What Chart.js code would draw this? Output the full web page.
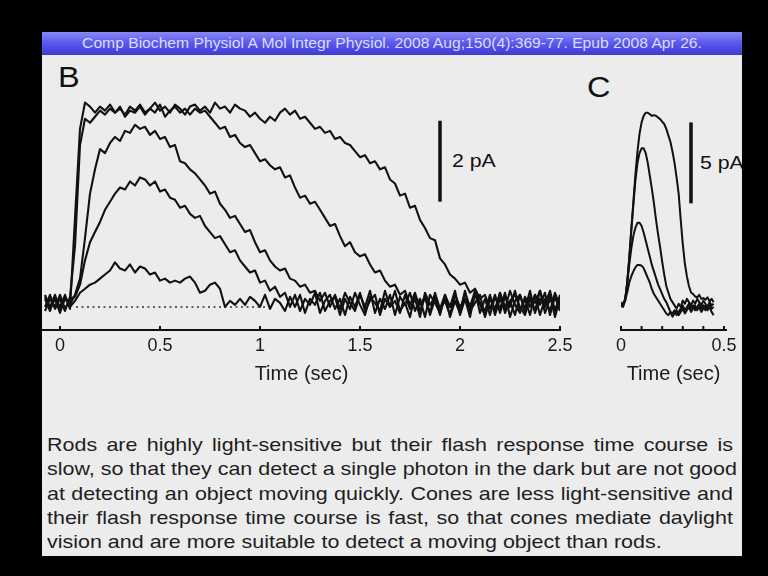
<!DOCTYPE html>
<html>
<head>
<meta charset="utf-8">
<title>Rod and cone flash responses</title>
<script src="https://cdn.jsdelivr.net/npm/chart.js@4.4.1/dist/chart.umd.min.js"></script>
<style>
  html, body { margin: 0; padding: 0; background: #000; }
  body { width: 768px; height: 576px; overflow: hidden; font-family: "Liberation Sans", Arial, sans-serif; }
  #slide { position: absolute; left: 42px; top: 32px; width: 700px; height: 524px; background: #ececec; overflow: hidden; }
  #bar { position: absolute; left: 0; top: 0; width: 700px; height: 23px;
         background: linear-gradient(#8888f6, #5858ec 50%, #3c3cd4); }
  #bar span { display: block; text-align: center; color: #dcdcff; font-size: 14.5px; line-height: 23px; transform: scaleX(1.08); }
  .lbl { position: absolute; color: #111; line-height: 1; white-space: nowrap; transform-origin: left top; transform: scaleX(1.12); }
  canvas { position: absolute; filter: blur(0.35px); }
  #para { position: absolute; left: 5px; top: 401px; width: 607px; font-size: 19px; line-height: 24.3px; color: #1e1e1e;
          transform-origin: left top; transform: scaleX(1.13); }
  #para div { white-space: nowrap; text-align: justify; text-align-last: justify; }
  #para div.last { text-align-last: left; }
</style>
</head>
<body>
<div id="slide">
  <div id="bar"><span>Comp Biochem Physiol A Mol Integr Physiol. 2008 Aug;150(4):369-77. Epub 2008 Apr 26.</span></div>
  <div class="lbl" style="left:16px; top:31px; font-size:29px;">B</div>
  <div class="lbl" style="left:545px; top:41px; font-size:29px;">C</div>
  <div class="lbl" style="left:410px; top:119px; font-size:19px;">2 pA</div>
  <div class="lbl" style="left:658px; top:121px; font-size:19px;">5 pA</div>
  <canvas id="rods" width="540" height="340" style="left:0; top:40px;"></canvas>
  <canvas id="cones" width="152" height="340" style="left:548px; top:40px;"></canvas>
  <div id="para">
    <div>Rods are highly light-sensitive but their flash response time course is</div>
    <div>slow, so that they can detect a single photon in the dark but are not good</div>
    <div>at detecting an object moving quickly. Cones are less light-sensitive and</div>
    <div>their flash response time course is fast, so that cones mediate daylight</div>
    <div class="last">vision and are more suitable to detect a moving object than rods.</div>
  </div>
</div>
<script>
// ── Data (seconds, pA) ───────────────────────────────────────────────────────
const rodTime = [
  -0.075,-0.05,-0.025,0,0.025,0.05,0.075,0.1,0.125,0.15,
  0.175,0.2,0.225,0.25,0.275,0.3,0.325,0.35,0.375,0.4,
  0.425,0.45,0.475,0.5,0.525,0.55,0.575,0.6,0.625,0.65,
  0.675,0.7,0.725,0.75,0.775,0.8,0.825,0.85,0.875,0.9,
  0.925,0.95,0.975,1,1.025,1.05,1.075,1.1,1.125,1.15,
  1.175,1.2,1.225,1.25,1.275,1.3,1.325,1.35,1.375,1.4,
  1.425,1.45,1.475,1.5,1.525,1.55,1.575,1.6,1.625,1.65,
  1.675,1.7,1.725,1.75,1.775,1.8,1.825,1.85,1.875,1.9,
  1.925,1.95,1.975,2,2.025,2.05,2.075,2.1,2.125,2.15,
  2.175,2.2,2.225,2.25,2.275,2.3,2.325,2.35,2.375,2.4,
  2.425,2.45,2.475,2.5
];

// brightest flash: longest saturation
const rodSat = [
  0.1,-0.2,0.15,-0.1,0.2,-0.15,2.1,4.3,4.95,4.85,
  4.7,4.85,4.75,4.9,4.7,4.8,4.65,4.85,4.75,4.9,
  4.7,4.8,4.95,4.75,4.85,4.7,4.9,4.8,4.65,4.85,
  4.9,4.75,4.85,4.7,4.95,4.8,4.85,4.7,4.9,4.8,
  4.75,4.6,4.7,4.55,4.45,4.6,4.5,4.7,4.8,4.65,
  4.75,4.55,4.6,4.45,4.3,4.35,4.2,4.25,4.05,4.1,
  3.95,3.9,3.75,3.6,3.65,3.45,3.5,3.3,3.35,3.05,
  2.95,2.65,2.7,2.35,2.4,2.05,1.85,1.6,1.55,1.1,
  0.95,0.7,0.6,0.45,0.5,0.25,0.35,0.1,0.2,-0.15,
  0.2,-0.25,0.15,-0.1,0.3,-0.2,0.1,-0.3,0.2,-0.05,
  0.25,-0.3,0.15,-0.2
];
const rodHigh = [
  -0.1,0.2,-0.15,0.1,-0.2,0.15,1.4,3.9,4.55,4.45,
  4.6,4.75,4.65,4.8,4.7,4.85,4.6,4.75,4.7,4.85,
  4.65,4.8,4.7,4.9,4.6,4.75,4.85,4.7,4.8,4.65,
  4.8,4.7,4.75,4.6,4.45,4.3,4.35,4.1,4.15,3.95,
  3.85,3.9,3.7,3.5,3.55,3.4,3.3,3.35,3.1,3.15,
  2.85,2.6,2.65,2.45,2.5,2.3,2.1,1.9,1.95,1.65,
  1.4,1.5,1.25,1.15,1.2,0.95,0.75,0.8,0.55,0.4,
  0.45,0.2,0.3,-0.05,0.25,-0.2,0.15,-0.3,0.1,-0.15,
  0.2,-0.35,0.05,-0.2,0.25,-0.1,0.3,-0.25,0.1,-0.3,
  0.15,-0.15,0.25,-0.35,0.05,0.2,-0.25,0.1,-0.2,0.3,
  -0.1,0.2,-0.35,0.1
];
const rodMid = [
  0.15,-0.1,0.2,-0.2,0.1,-0.05,0.2,0.6,1.6,2.7,
  3.3,3.8,3.7,3.95,4.1,4.0,4.25,4.2,4.4,4.3,
  4.35,4.15,4.25,4.05,4.1,3.85,3.9,3.5,3.45,3.3,
  3.2,3.05,2.9,2.7,2.75,2.45,2.3,2.1,2.15,1.95,
  1.75,1.8,1.5,1.25,1.3,1.05,0.9,0.8,0.85,0.6,
  0.55,0.4,0.45,0.25,0.3,0.05,0.25,-0.1,0.2,-0.15,
  0.25,0.0,-0.2,0.2,-0.1,0.3,-0.25,0.1,-0.15,0.2,
  -0.3,0.15,-0.05,0.25,-0.2,0.1,-0.35,0.2,0.0,-0.25,
  0.15,-0.1,0.3,-0.3,0.1,-0.2,0.2,-0.05,-0.3,0.15,
  -0.2,0.25,-0.1,0.05,-0.3,0.2,-0.15,0.3,-0.25,0.1,
  -0.05,0.3,-0.2,0.2
];
const rodLow = [
  -0.2,0.1,-0.1,0.2,-0.15,0.1,0.15,0.45,1.05,1.5,
  1.75,2.0,2.3,2.5,2.7,2.85,2.8,3.0,2.9,3.1,
  3.05,2.9,3.0,2.75,2.8,2.6,2.55,2.35,2.4,2.2,
  2.1,2.15,1.9,1.75,1.6,1.65,1.45,1.25,1.3,1.05,
  0.9,0.75,0.8,0.5,0.55,0.3,0.4,0.15,0.25,-0.1,
  0.2,-0.2,0.1,-0.05,0.25,-0.25,0.05,0.2,-0.15,0.1,
  -0.3,0.15,-0.1,0.25,-0.2,0.05,0.2,-0.3,0.1,-0.1,
  0.3,-0.2,0.0,-0.35,0.2,-0.05,0.15,-0.25,0.25,-0.15,
  0.05,-0.3,0.2,-0.1,0.1,-0.35,0.25,0.0,-0.2,0.2,
  -0.3,0.1,-0.15,0.3,-0.05,-0.25,0.15,-0.1,0.2,-0.3,
  0.1,-0.2,0.25,-0.1
];
const rodDim = [
  0.2,-0.15,0.1,-0.25,0.15,-0.1,0.05,0.25,0.35,0.45,
  0.5,0.6,0.7,0.8,1.0,0.85,0.8,0.95,0.75,0.9,
  0.85,0.7,0.75,0.55,0.6,0.5,0.55,0.5,0.6,0.65,
  0.5,0.25,0.3,0.45,0.5,0.35,-0.1,0.05,-0.05,0.1,
  -0.05,0.15,0.05,-0.1,0.2,-0.15,0.1,0.0,-0.2,0.15,
  -0.1,0.2,-0.25,0.1,-0.05,0.25,-0.2,0.05,0.15,-0.3,
  0.1,-0.15,0.25,-0.05,-0.3,0.15,0.0,-0.2,0.3,-0.1,
  0.05,-0.25,0.2,-0.15,0.1,-0.35,0.25,-0.05,0.15,-0.3,
  0.2,-0.1,0.05,-0.25,0.3,-0.2,0.0,0.2,-0.35,0.1,
  -0.15,0.25,-0.25,0.05,0.2,-0.1,-0.3,0.15,0.0,0.3,
  -0.25,0.1,-0.15,0.05
];

const coneTime = [
  0,0.01,0.02,0.03,0.04,0.05,0.06,0.07,0.08,0.09,
  0.1,0.11,0.12,0.13,0.14,0.15,0.16,0.17,0.18,0.19,
  0.2,0.21,0.22,0.23,0.24,0.25,0.26,0.27,0.28,0.29,
  0.3,0.31,0.32,0.33,0.34,0.35,0.36,0.37,0.38,0.39,
  0.4,0.41,0.42,0.43,0.44,0.45
];
const coneBright = [
  0.3,0.1,0.4,1.5,3.0,4.8,6.5,8.2,9.6,10.7,
  11.4,11.8,12.0,12.0,11.9,11.8,11.85,11.8,11.7,11.6,
  11.45,11.3,11.0,10.6,10.2,9.6,8.9,8.0,7.0,5.4,
  3.9,2.7,1.9,1.3,0.9,0.8,0.65,0.6,0.75,0.5,
  0.55,0.45,0.6,0.35,0.5,0.3
];
const coneHigh = [
  0.2,0.0,0.4,1.5,3.0,4.7,6.3,7.8,8.9,9.5,
  9.8,9.8,9.5,8.9,8.1,7.3,6.4,5.4,4.5,3.7,
  2.8,2.0,1.3,0.9,0.5,0.3,0.1,-0.1,0.2,0.0,
  0.4,0.2,0.5,0.3,0.1,0.4,0.2,0.5,0.3,0.1,
  0.4,0.2,0.0,0.3,0.1,0.2
];
const coneMid = [
  0.1,0.2,0.5,1.4,2.6,3.6,4.4,4.9,5.2,5.2,
  5.0,4.6,4.1,3.6,3.1,2.6,2.2,1.8,1.4,1.1,
  0.8,0.5,0.3,0.0,-0.3,-0.4,-0.2,-0.5,-0.3,-0.1,
  0.1,-0.2,0.0,0.2,-0.1,0.1,-0.2,0.0,0.2,-0.1,
  0.1,-0.2,0.0,0.2,-0.1,0.0
];
const coneDim = [
  0.0,0.2,0.4,0.9,1.5,1.9,2.2,2.45,2.6,2.6,
  2.55,2.4,2.1,1.8,1.5,1.1,0.8,0.6,0.4,0.2,
  0.0,-0.2,-0.4,-0.5,-0.3,-0.6,-0.4,-0.2,-0.5,-0.3,
  -0.1,-0.4,-0.2,0.0,-0.3,-0.1,0.1,-0.2,0.0,-0.3,
  -0.1,0.1,-0.2,0.0,-0.3,-0.5
];

// scale bars and dark-current level
const rodBarX = [1.9, 1.9], rodBarY = [2.5, 4.5];       // 2 pA
const coneBarX = [0.34, 0.34], coneBarY = [6.4, 11.4];  // 5 pA
const darkX = [0.08, 1.05], darkY = [-0.1, -0.1];

const rodTicks = [0, 0.5, 1, 1.5, 2, 2.5];
const rodTickLabels = ['0', '0.5', '1', '1.5', '2', '2.5'];
const coneTicks = [0, 0.1, 0.2, 0.3, 0.4, 0.5];
const coneTickLabels = ['0', '', '', '', '', '0.5'];

// ── Helpers ──────────────────────────────────────────────────────────────────
const INK = '#111';
const FONT = '"Liberation Sans", Arial, sans-serif';

function trace(xs, ys, width, extra) {
  return Object.assign({
    data: xs.map((x, i) => ({ x, y: ys[i] })),
    borderColor: INK, borderWidth: width, pointRadius: 0,
    tension: 0, fill: false, borderJoinStyle: 'round',
  }, extra || {});
}

// small tick marks pointing up from the time axis
const upTicks = {
  id: 'upTicks',
  afterDraw(chart) {
    const sx = chart.scales.x, bottom = chart.chartArea.bottom, ctx = chart.ctx;
    ctx.save();
    ctx.strokeStyle = INK;
    ctx.lineWidth = 2;
    sx.ticks.forEach(t => {
      const px = sx.getPixelForValue(t.value);
      ctx.beginPath();
      ctx.moveTo(px, bottom);
      ctx.lineTo(px, bottom - 4);
      ctx.stroke();
    });
    ctx.restore();
  },
};

function options(xmin, xmax, ymin, ymax, ticks, labels, padding) {
  return {
    responsive: false, animation: false, events: [],
    layout: { padding },
    plugins: { legend: { display: false }, tooltip: { enabled: false } },
    scales: {
      x: {
        type: 'linear', min: xmin, max: xmax,
        afterBuildTicks: s => { s.ticks = ticks.map(v => ({ value: v })); },
        grid: { display: true, drawOnChartArea: false, drawTicks: false },
        border: { display: true, color: INK, width: 2 },
        ticks: {
          autoSkip: false, maxRotation: 0, padding: 5, color: '#1a1a1a',
          font: { family: FONT, size: 18 },
          callback: (v, i) => labels[i],
        },
        title: {
          display: true, text: 'Time (sec)', color: '#1a1a1a',
          font: { family: FONT, size: 20 }, padding: { top: 1, bottom: 4 },
        },
      },
      y: { display: false, min: ymin, max: ymax },
    },
  };
}

// ── Panel B: rods ────────────────────────────────────────────────────────────
new Chart(document.getElementById('rods'), {
  type: 'line',
  data: {
    datasets: [
      trace(rodTime, rodSat, 2.1),
      trace(rodTime, rodHigh, 2.1),
      trace(rodTime, rodMid, 2.1),
      trace(rodTime, rodLow, 2.1),
      trace(rodTime, rodDim, 2.1),
      trace(darkX, darkY, 1.5, { borderDash: [2, 3.5], borderColor: '#333' }),
      trace(rodBarX, rodBarY, 3.5, { borderJoinStyle: 'miter' }),
    ],
  },
  options: options(-0.085, 2.5, -0.67, 5.26, rodTicks, rodTickLabels,
                   { left: 1, right: 22, top: 18, bottom: 21.4 }),
  plugins: [upTicks],
});

// ── Panel C: cones ───────────────────────────────────────────────────────────
new Chart(document.getElementById('cones'), {
  type: 'line',
  data: {
    datasets: [
      trace(coneTime, coneBright, 2.0),
      trace(coneTime, coneHigh, 2.0),
      trace(coneTime, coneMid, 2.0),
      trace(coneTime, coneDim, 2.0),
      trace(coneBarX, coneBarY, 3.5, { borderJoinStyle: 'miter' }),
    ],
  },
  options: options(0, 0.51, -1.42, 13.4, coneTicks, coneTickLabels,
                   { left: 31, right: 16, top: 18, bottom: 21.4 }),
  plugins: [upTicks],
});
</script>
</body>
</html>
